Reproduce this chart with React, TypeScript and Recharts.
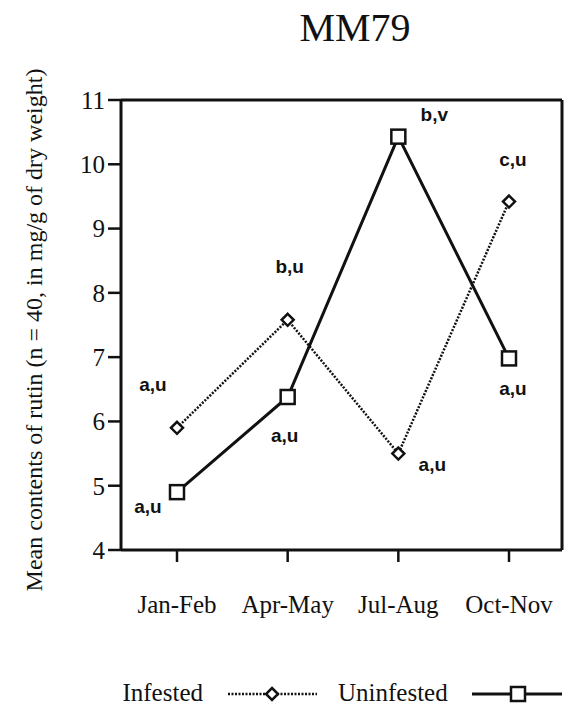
import React from "react";
import { LineChart, Line, XAxis, YAxis, Legend, LabelList } from "recharts";

const categories = ["Jan-Feb", "Apr-May", "Jul-Aug", "Oct-Nov"];
const infested = [5.9, 7.58, 5.5, 9.42];
const uninfested = [4.9, 6.38, 10.43, 6.98];
const infestedLetters = ["a,u", "b,u", "a,u", "c,u"];
const uninfestedLetters = ["a,u", "a,u", "b,v", "a,u"];
const yTicks = [4, 5, 6, 7, 8, 9, 10, 11];

const data = categories.map((period, i) => ({
  period,
  infested: infested[i],
  uninfested: uninfested[i],
  infLetter: infestedLetters[i],
  uninfLetter: uninfestedLetters[i]
}));

// where each significance letter sits relative to its point
const INF_OFFSET = [[-24, -43], [2, -53], [34, 11], [4, -42]];
const UNINF_OFFSET = [[-29, 14], [-3, 38], [36, -22], [4, 30]];

const SERIF = "'Liberation Serif', 'DejaVu Serif', serif";
const SANS = "'Liberation Sans', Arial, sans-serif";
const INK = "#111";
const AXIS = { stroke: INK, strokeWidth: 3 };

function Diamond({ cx, cy }: any) {
  if (cx == null || cy == null) return null;
  const r = 6;
  return (
    <polygon
      points={`${cx},${cy - r} ${cx + r},${cy} ${cx},${cy + r} ${cx - r},${cy}`}
      fill="#fff"
      stroke={INK}
      strokeWidth={2.5}
    />
  );
}

function Square({ cx, cy }: any) {
  if (cx == null || cy == null) return null;
  const h = 7;
  return <rect x={cx - h} y={cy - h} width={h * 2} height={h * 2} fill="#fff" stroke={INK} strokeWidth={2.5} />;
}

function letterLabel(offsets: number[][]) {
  return (props: any) => {
    const { x, y, value, index } = props;
    const [dx, dy] = offsets[index] ?? [0, 0];
    return (
      <text
        x={x + dx}
        y={y + dy}
        textAnchor="middle"
        dominantBaseline="central"
        fontFamily={SANS}
        fontWeight="bold"
        fontSize={19}
        fill={INK}
      >
        {value}
      </text>
    );
  };
}

function LegendRow() {
  return (
    <svg width={574} height={30} style={{ display: "block" }}>
      <text x={203} y={22} textAnchor="end" fontFamily={SERIF} fontSize={25} fill={INK}>
        Infested
      </text>
      <line x1={228} x2={317} y1={15} y2={15} stroke={INK} strokeWidth={2.5} strokeDasharray="2 1.5" />
      <Diamond cx={272} cy={15} />
      <text x={338} y={22} fontFamily={SERIF} fontSize={25} fill={INK}>
        Uninfested
      </text>
      <line x1={472} x2={562} y1={15} y2={15} stroke={INK} strokeWidth={3} />
      <Square cx={518} cy={15} />
    </svg>
  );
}

function YLabel() {
  return (
    <text
      x={34}
      y={330}
      transform="rotate(-90 34 330)"
      textAnchor="middle"
      dominantBaseline="central"
      fontFamily={SERIF}
      fontSize={24}
      fill={INK}
    >
      Mean contents of rutin (n = 40, in mg/g of dry weight)
    </text>
  );
}

export default function App() {
  return (
    <div style={{ position: "absolute", left: 0, top: 0, width: 574, height: 711, background: "#fff" }}>
      <div
        style={{
          position: "absolute",
          left: 0,
          top: 8,
          width: 574,
          paddingLeft: 136,
          boxSizing: "border-box",
          textAlign: "center",
          fontFamily: SERIF,
          fontSize: 40,
          color: INK,
          lineHeight: "40px"
        }}
      >
        MM79
      </div>
      <LineChart width={574} height={711} data={data} margin={{ top: 99, right: 11, bottom: 2, left: 0 }}>
        <XAxis
          dataKey="period"
          padding={{ left: 56, right: 53 }}
          height={129}
          tickSize={12}
          tickMargin={33}
          tickLine={{ stroke: INK, strokeWidth: 2.5 }}
          axisLine={AXIS}
          tick={{ fontFamily: SERIF, fontSize: 25, fill: INK }}
        />
        <XAxis xAxisId="top" orientation="top" dataKey="period" height={1} tick={false} tickLine={false} axisLine={AXIS} />
        <YAxis
          domain={[4, 11]}
          ticks={yTicks}
          width={121}
          tickSize={13}
          tickMargin={3}
          tickLine={{ stroke: INK, strokeWidth: 2.5 }}
          axisLine={AXIS}
          tick={{ fontFamily: SERIF, fontSize: 25, fill: INK }}
          label={<YLabel />}
        />
        <YAxis yAxisId="right" orientation="right" domain={[4, 11]} width={1} tick={false} tickLine={false} axisLine={AXIS} />
        <Legend verticalAlign="bottom" content={() => <LegendRow />} />
        <Line
          dataKey="infested"
          stroke={INK}
          strokeWidth={2.5}
          strokeDasharray="2 1.5"
          dot={<Diamond />}
          activeDot={false}
          isAnimationActive={false}
        >
          <LabelList dataKey="infLetter" content={letterLabel(INF_OFFSET)} />
        </Line>
        <Line
          dataKey="uninfested"
          stroke={INK}
          strokeWidth={3}
          dot={<Square />}
          activeDot={false}
          isAnimationActive={false}
        >
          <LabelList dataKey="uninfLetter" content={letterLabel(UNINF_OFFSET)} />
        </Line>
      </LineChart>
    </div>
  );
}
